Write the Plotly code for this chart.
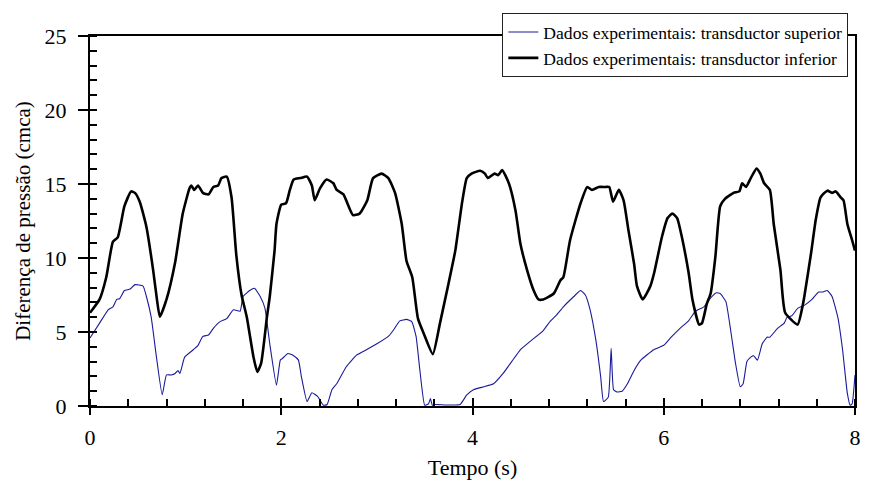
import plotly.graph_objects as go

# Transductor inferior (black, thick)
t_inf = [0.0, 0.1, 0.17, 0.24, 0.29, 0.36, 0.43, 0.47, 0.52, 0.59, 0.66, 0.70, 0.73, 0.80, 0.89, 0.97,
         1.04, 1.06, 1.09, 1.13, 1.18, 1.24, 1.29, 1.34, 1.375, 1.43, 1.48, 1.53, 1.585, 1.64, 1.71,
         1.75, 1.79, 1.85, 1.88, 1.93, 1.95, 2.0, 2.05, 2.09, 2.13, 2.2, 2.27, 2.32, 2.35, 2.405,
         2.475, 2.545, 2.58, 2.65, 2.75, 2.82, 2.9, 2.96, 3.05, 3.12, 3.19, 3.26, 3.31, 3.37, 3.43,
         3.49, 3.585, 3.66, 3.75, 3.82, 3.89, 3.94, 3.99, 4.08, 4.13, 4.16, 4.23, 4.27, 4.31, 4.38,
         4.45, 4.50, 4.57, 4.64, 4.69, 4.74, 4.85, 4.92, 4.95, 5.02, 5.13, 5.2, 5.25, 5.32, 5.39,
         5.43, 5.47, 5.53, 5.58, 5.63, 5.69, 5.72, 5.78, 5.86, 5.9, 5.98, 6.04, 6.09, 6.14, 6.19,
         6.26, 6.3, 6.37, 6.4, 6.45, 6.49, 6.54, 6.59, 6.64, 6.73, 6.79, 6.82, 6.86, 6.91, 6.97,
         7.01, 7.05, 7.11, 7.15, 7.22, 7.27, 7.40, 7.45, 7.47, 7.54, 7.59, 7.64, 7.71, 7.76, 7.80,
         7.85, 7.88, 7.92, 7.97, 8.0]
p_inf = [6.3, 7.2, 8.7, 11.1, 11.4, 13.5, 14.5, 14.4, 13.8, 12.1, 9.2, 7.2, 6.03, 7.2, 9.7, 13.0,
         14.7, 14.9, 14.6, 14.9, 14.4, 14.3, 14.8, 14.9, 15.4, 15.5, 14.1, 10.2, 7.5, 6.0, 3.3,
         2.3, 2.9, 6.0, 7.4, 10.5, 12.3, 13.6, 13.7, 14.6, 15.3, 15.4, 15.5, 14.9, 13.9, 14.7,
         15.3, 15.05, 14.6, 14.3, 12.9, 13.0, 13.9, 15.4, 15.7, 15.4, 14.4, 12.3, 9.8, 8.7, 5.9,
         4.9, 3.5, 5.6, 8.3, 10.5, 13.7, 15.4, 15.7, 15.9, 15.7, 15.4, 15.7, 15.6, 15.95, 15.05,
         13.2, 11.0, 9.2, 7.8, 7.2, 7.2, 7.6, 8.5, 8.7, 11.2, 13.7, 14.8, 14.6, 14.8, 14.8,
         14.8, 13.8, 14.6, 13.9, 11.9, 9.6, 8.1, 7.2, 8.1, 9.0, 11.4, 12.7, 13.0, 12.7, 11.4,
         9.0, 7.2, 5.5, 5.6, 6.9, 7.6, 10.1, 13.5, 14.0, 14.4, 14.5, 15.05, 14.8, 15.4, 16.05,
         15.7, 15.05, 14.6, 12.3, 9.2, 6.3, 5.5, 6.7, 7.4, 10.3, 12.6, 14.1, 14.55, 14.4, 14.5,
         14.1, 13.9, 12.3, 11.2, 10.5]

# Transductor superior (blue, thin)
t_sup = [0.0, 0.10, 0.19, 0.24, 0.28, 0.31, 0.36, 0.42, 0.47, 0.555, 0.59, 0.64, 0.695, 0.755,
         0.80, 0.85, 0.89, 0.92, 0.94, 0.99, 1.08, 1.13, 1.18, 1.24, 1.29, 1.36, 1.43, 1.50, 1.57,
         1.60, 1.67, 1.72, 1.78, 1.83, 1.88, 1.95, 1.99, 2.01, 2.07, 2.13, 2.18, 2.21, 2.27, 2.32,
         2.38, 2.44, 2.48, 2.53, 2.58, 2.68, 2.79, 2.89, 3.0, 3.12, 3.17, 3.24, 3.31, 3.365, 3.41,
         3.45, 3.5, 3.54, 3.56, 3.58, 3.61, 3.72, 3.87, 3.94, 4.01, 4.12, 4.22, 4.32, 4.41, 4.50,
         4.60, 4.74, 4.81, 4.88, 4.95, 5.06, 5.13, 5.18, 5.23, 5.29, 5.34, 5.37, 5.42, 5.45, 5.475,
         5.51, 5.565, 5.62, 5.69, 5.76, 5.895, 6.0, 6.07, 6.17, 6.26, 6.33, 6.42, 6.49, 6.55, 6.59,
         6.65, 6.70, 6.75, 6.80, 6.83, 6.87, 6.91, 6.94, 6.98, 7.03, 7.08, 7.11, 7.19, 7.26, 7.29,
         7.34, 7.40, 7.47, 7.55, 7.62, 7.66, 7.71, 7.76, 7.82, 7.87, 7.92, 7.95, 7.97, 8.0]
p_sup = [4.6, 5.6, 6.5, 6.7, 7.2, 7.25, 7.8, 7.9, 8.2, 8.1, 7.4, 6.0, 3.3, 0.75,
         2.1, 2.1, 2.2, 2.4, 2.2, 3.3, 3.8, 4.1, 4.7, 4.8, 5.25, 5.7, 5.9, 6.5, 6.4,
         7.4, 7.8, 7.95, 7.4, 6.6, 4.2, 1.4, 3.1, 3.2, 3.55, 3.4, 3.1, 2.0, 0.3, 0.9,
         0.65, 0.05, 0.1, 1.1, 1.5, 2.65, 3.45, 3.8, 4.2, 4.7, 5.1, 5.75, 5.85, 5.7, 4.7,
         2.4, 0.05, 0.15, 0.5, 0.05, 0.1, 0.07, 0.1, 0.75, 1.1, 1.3, 1.5, 2.2, 3.0, 3.8,
         4.35, 5.1, 5.7, 6.15, 6.7, 7.4, 7.8, 7.5, 6.5, 4.45, 2.0, 0.3, 0.6, 3.9, 1.1,
         0.95, 1.0, 1.5, 2.4, 3.1, 3.8, 4.1, 4.6, 5.25, 5.75, 6.4, 6.7, 7.3, 7.65, 7.6,
         7.05, 5.1, 2.9, 1.3, 1.5, 3.0, 3.3, 3.4, 3.1, 4.2, 4.65, 4.65, 5.25, 5.6, 6.0,
         6.1, 6.6, 6.8, 7.2, 7.7, 7.7, 7.8, 7.4, 6.0, 3.8, 0.85, 0.05, 0.15, 2.1]

x_range = [0, 8]
y_range = [0, 25]

FONT = "Liberation Serif, Times New Roman, serif"

fig = go.Figure()
fig.add_trace(go.Scatter(x=t_sup, y=p_sup, mode="lines",
                         name="Dados experimentais: transductor superior",
                         line=dict(color="#1a1a9a", width=1.1, shape="spline", smoothing=0.4)))
fig.add_trace(go.Scatter(x=t_inf, y=p_inf, mode="lines",
                         name="Dados experimentais: transductor inferior",
                         line=dict(color="#000000", width=2.6, shape="spline", smoothing=0.5)))
# invisible trace to host the overlay axes (inside half of the major ticks)
fig.add_trace(go.Scatter(x=[x_range[0]], y=[y_range[0]], xaxis="x2", yaxis="y2",
                         mode="markers", marker=dict(opacity=0), showlegend=False,
                         hoverinfo="skip"))

fig.update_layout(
    width=877, height=495,
    margin=dict(l=82, r=30, t=28, b=97, autoexpand=False),
    paper_bgcolor="white", plot_bgcolor="white",
    font=dict(family=FONT, color="black"),
    showlegend=True,
    legend=dict(x=0.539, y=1.062, xanchor="left", yanchor="top",
                bgcolor="white", bordercolor="#222222", borderwidth=1,
                font=dict(family=FONT, size=17.6, color="black"),
                tracegroupgap=0, itemwidth=30),
    xaxis=dict(range=x_range, tickvals=[0, 2, 4, 6, 8], ticktext=["0", "2", "4", "6", "8"],
               ticks="outside", ticklen=7, tickwidth=1.5, tickcolor="black",
               showline=True, linecolor="black", linewidth=2, mirror=True,
               showgrid=False, zeroline=False,
               minor=dict(ticks="inside", dtick=0.4, ticklen=7, tickwidth=1.5, tickcolor="black",
                          showgrid=False),
               tickfont=dict(family=FONT, size=22, color="black"),
               ticklabelstandoff=4,
               title=dict(text="Tempo (s)", font=dict(family=FONT, size=22, color="black"),
                          standoff=10)),
    yaxis=dict(range=y_range, tickvals=[0, 5, 10, 15, 20, 25],
               ticktext=["0", "5", "10", "15", "20", "25"],
               ticks="outside", ticklen=10, tickwidth=1.5, tickcolor="black",
               showline=True, linecolor="black", linewidth=2, mirror=True,
               showgrid=False, zeroline=False,
               minor=dict(ticks="inside", dtick=1, ticklen=7, tickwidth=1.5, tickcolor="black",
                          showgrid=False),
               tickfont=dict(family=FONT, size=22, color="black"),
               ticklabelstandoff=7,
               title=dict(text="Diferença de pressão (cmca)",
                          font=dict(family=FONT, size=21, color="black"), standoff=8)),
    xaxis2=dict(range=x_range, overlaying="x", tickvals=[0, 2, 4, 6, 8], ticks="inside",
                ticklen=8, tickwidth=1.5, tickcolor="black", showticklabels=False,
                showline=False, showgrid=False, zeroline=False, side="bottom"),
    yaxis2=dict(range=y_range, overlaying="y", tickvals=[0, 5, 10, 15, 20, 25], ticks="inside",
                ticklen=7, tickwidth=1.5, tickcolor="black", showticklabels=False,
                showline=False, showgrid=False, zeroline=False, side="left"),
)

fig.write_html("out.html")
